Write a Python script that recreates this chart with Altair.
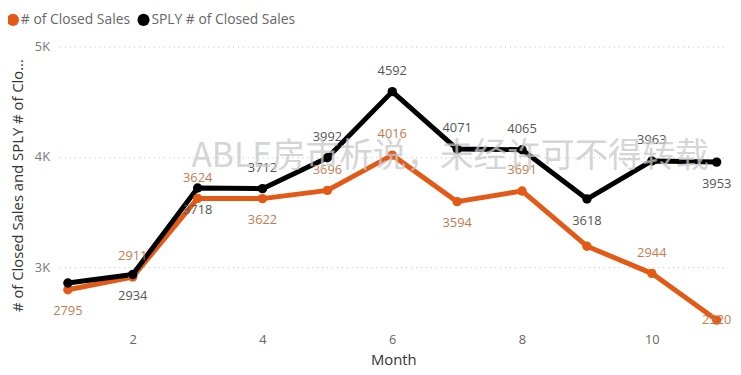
import altair as alt
import pandas as pd

months = [1, 2, 3, 4, 5, 6, 7, 8, 9, 10, 11]
closed = [2795, 2911, 3624, 3622, 3696, 4016, 3594, 3691, 3190, 2944, 2520]
sply = [2856, 2934, 3718, 3712, 3992, 4592, 4071, 4065, 3618, 3963, 3953]
# label placement: a = above, b = below, c = centered, '' = hidden
closed_pos = ['b', 'a', 'a', 'b', 'a', 'a', 'b', 'a', '', 'a', 'c']
sply_pos = ['', 'b', 'b', 'a', 'a', 'a', 'a', 'a', 'b', 'a', 'b']

S1 = "# of Closed Sales"
S2 = "SPLY # of Closed Sales"
ORANGE = "#E35A17"
BLACK = "#000000"

rows = []
for m, v, p in zip(months, closed, closed_pos):
    rows.append({"Month": m, "value": v, "series": S1, "pos": p, "order": 0})
for m, v, p in zip(months, sply, sply_pos):
    rows.append({"Month": m, "value": v, "series": S2, "pos": p, "order": 1})
df = pd.DataFrame(rows)

xs = alt.Scale(domain=[0.87, 11.16], nice=False, zero=False)
ys = alt.Scale(domain=[2444, 5045], nice=False, zero=False)
color = alt.Color("series:N",
                  scale=alt.Scale(domain=[S1, S2], range=[ORANGE, BLACK]),
                  legend=alt.Legend(title=None, orient="none", legendX=-54, legendY=-29,
                                    direction="horizontal", symbolType="circle",
                                    symbolSize=150, labelFontSize=14, labelColor="#666666",
                                    labelFont="Open Sans", columnPadding=6, labelOffset=1,
                                    symbolOpacity=1))

base = alt.Chart(df)

x_enc = alt.X("Month:Q", scale=xs,
              axis=alt.Axis(values=[2, 4, 6, 8, 10], format="d", grid=False, domain=False,
                            ticks=False, labelFontSize=13, labelColor="#666666", labelPadding=5,
                            title="Month", titleFontSize=15, titleColor="#333333",
                            titleFontWeight="normal", titlePadding=6, labelFont="Open Sans",
                            titleFont="Open Sans"))
y_enc = alt.Y("value:Q", scale=ys,
              axis=alt.Axis(values=[3000, 4000, 5000], labelExpr="datum.value/1000 + 'K'",
                            grid=True, gridDash=[1, 4], gridColor="#bbbbbb", gridWidth=1,
                            domain=False, ticks=False, labelFontSize=13, labelColor="#777777",
                            labelPadding=10, title="# of Closed Sales and SPLY # of Clo...",
                            titleFontSize=15, titleColor="#333333", titleFontWeight="normal",
                            titlePadding=9, labelFont="Open Sans", titleFont="Open Sans"))

orange_line = base.transform_filter(alt.datum.series == S1).mark_line(
    strokeWidth=5, color=ORANGE, strokeJoin="round").encode(x=x_enc, y=y_enc)
black_line = base.transform_filter(alt.datum.series == S2).mark_line(
    strokeWidth=5, color=BLACK, strokeJoin="round").encode(x="Month:Q", y="value:Q")
pts = base.mark_circle(size=90, opacity=1).encode(
    x="Month:Q", y="value:Q", color=color, order=alt.Order("order:Q"))

def labels(series, pos, dy, col):
    return base.transform_filter(
        (alt.datum.series == series) & (alt.datum.pos == pos)
    ).mark_text(dy=dy, fontSize=13, color=col, font="Open Sans").encode(
        x="Month:Q", y="value:Q", text="value:Q")

lab_layers = [
    labels(S1, 'a', -21, "#C47A50"),
    labels(S1, 'b', 22, "#C47A50"),
    labels(S1, 'c', 0, "#C47A50"),
    labels(S2, 'a', -21, "#555555"),
    labels(S2, 'b', 22, "#555555"),
]

watermark = alt.Chart(pd.DataFrame({"t": ["ABLE房市析说，未经许可不得转载"]})).mark_text(
    fontSize=34, color="#c8c8c8", opacity=0.75, font="Noto Sans CJK SC"
).encode(x=alt.value(395), y=alt.value(117), text="t:N")

chart = alt.layer(orange_line, black_line, pts, *lab_layers, watermark).properties(
    width=675, height=290,
    padding={"left": 52, "top": 32, "right": 6, "bottom": 45},
    autosize=alt.AutoSizeParams(type="none"),
).configure(background="white").configure_view(stroke=None)

chart.save("out.html", embed_options={"renderer": "svg", "actions": False})
